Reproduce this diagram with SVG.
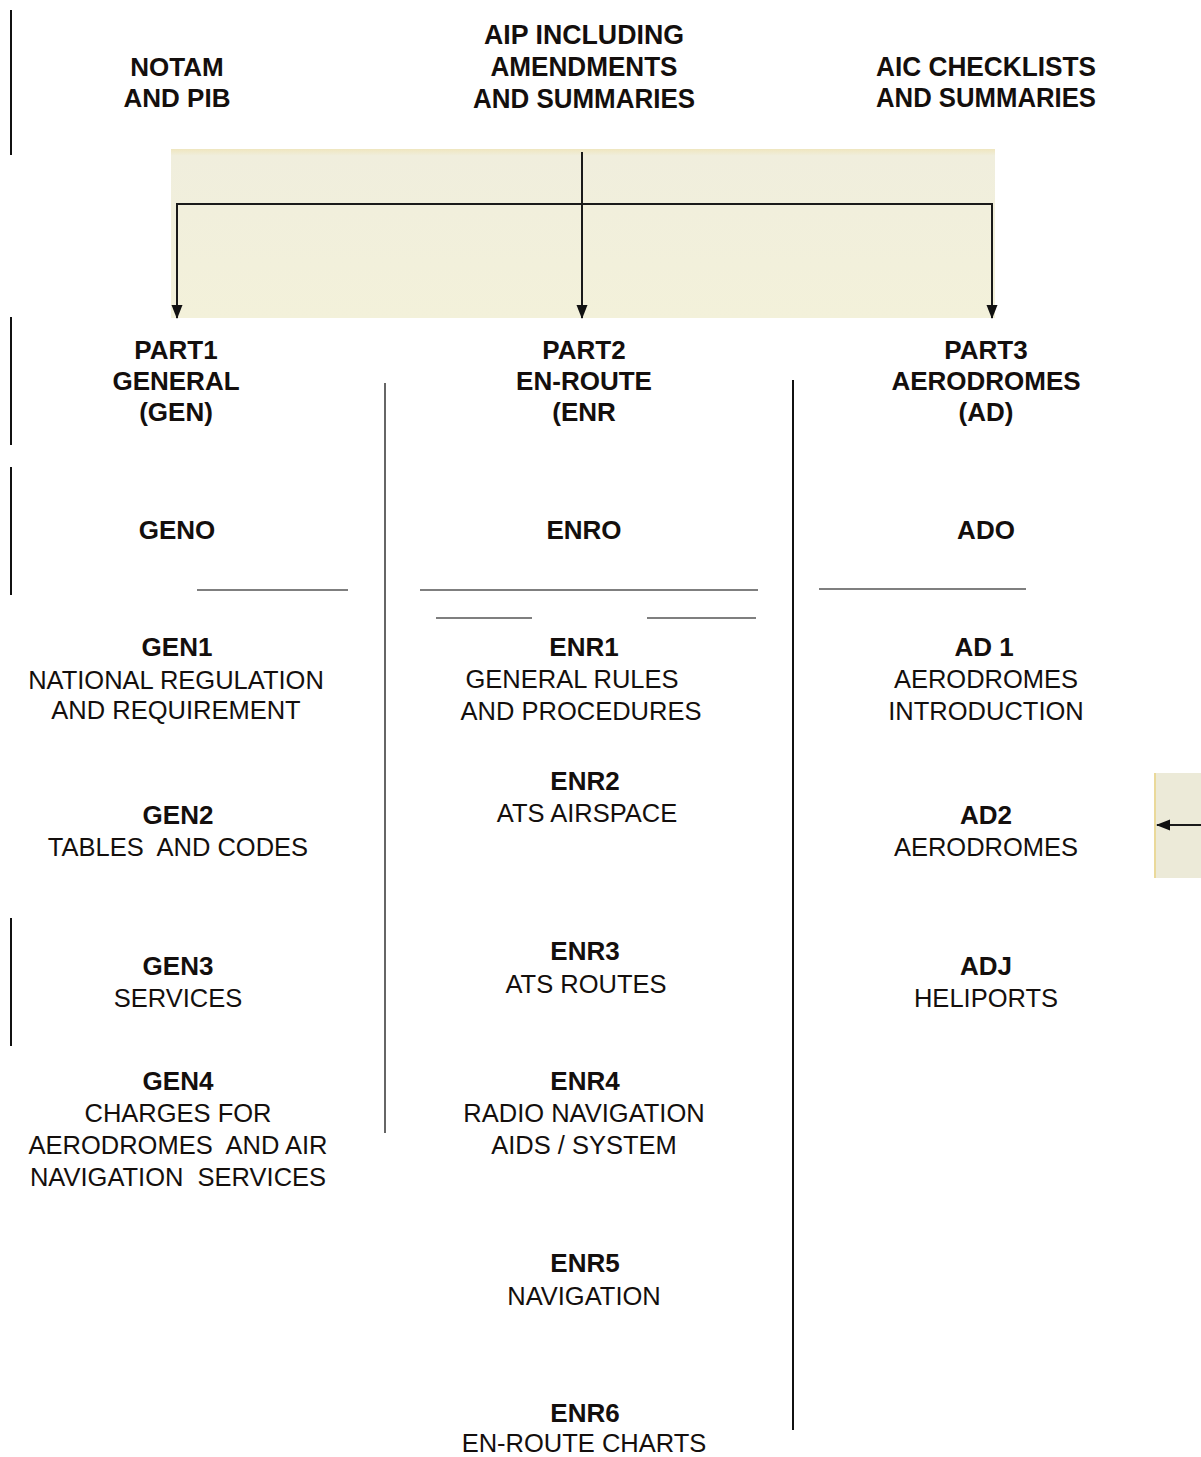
<svg xmlns="http://www.w3.org/2000/svg" width="1201" height="1457" viewBox="0 0 1201 1457">
<defs>
<marker id="ah" markerWidth="14" markerHeight="12" refX="13" refY="5.5" orient="auto" markerUnits="userSpaceOnUse">
<path d="M0,0 L14,5.5 L0,11 Z" fill="#111"/>
</marker>
<linearGradient id="bg" x1="0" y1="0" x2="0" y2="1">
<stop offset="0" stop-color="#efe6bf"/>
<stop offset="0.04" stop-color="#f0eedd"/>
<stop offset="1" stop-color="#f3f1da"/>
</linearGradient>
</defs>
<style>
text{font-family:"Liberation Sans",Arial,sans-serif;fill:#140f0d;text-anchor:middle}
.b{font-weight:bold;font-size:26px}
.r{font-size:25.5px}
.t{font-weight:bold;font-size:27px}
.sep{stroke:#111;stroke-width:2}
.hr{stroke:#555;stroke-width:1.5}
.con{stroke:#1a1a1a;stroke-width:2;fill:none}
</style>
<rect x="0" y="0" width="1201" height="1457" fill="#fff"/>
<g id="panel">
<rect x="171" y="149" width="824" height="169" fill="url(#bg)"/>
<rect x="1154" y="773" width="47" height="105" fill="#ecead8"/>
<line x1="1155" y1="773" x2="1155" y2="878" stroke="#ead99a" stroke-width="2"/>
</g>
<g id="separators">
<line class="sep" x1="11" y1="10" x2="11" y2="155"/>
<line class="sep" x1="11" y1="317" x2="11" y2="445"/>
<line class="sep" x1="11" y1="467" x2="11" y2="595"/>
<line class="sep" x1="11" y1="918" x2="11" y2="1046"/>
<line x1="385" y1="383" x2="385" y2="1133" stroke="#333" stroke-width="1.5"/>
<line class="sep" x1="793" y1="380" x2="793" y2="1430"/>
<line class="hr" x1="197" y1="590" x2="348" y2="590"/>
<line class="hr" x1="420" y1="590" x2="758" y2="590"/>
<line class="hr" x1="436" y1="618" x2="532" y2="618"/>
<line class="hr" x1="647" y1="618" x2="756" y2="618"/>
<line class="hr" x1="819" y1="589" x2="1026" y2="589"/>
</g>
<g id="connectors">
<line class="con" x1="582" y1="152" x2="582" y2="318" marker-end="url(#ah)"/>
<line class="con" x1="176" y1="204" x2="993" y2="204" stroke="#444"/>
<line class="con" x1="177" y1="204" x2="177" y2="318" marker-end="url(#ah)"/>
<line class="con" x1="992" y1="204" x2="992" y2="318" marker-end="url(#ah)"/>
<line class="con" x1="1201" y1="825" x2="1157" y2="825" marker-end="url(#ah)"/>
</g>
<g id="notam"><text class="b" x="177" y="76">NOTAM</text><text class="b" x="177" y="107">AND PIB</text></g>
<g id="aip"><text class="t" x="584" y="44" textLength="200" lengthAdjust="spacingAndGlyphs">AIP INCLUDING</text><text class="t" x="584" y="76" textLength="187" lengthAdjust="spacingAndGlyphs">AMENDMENTS</text><text class="t" x="584" y="108" textLength="222" lengthAdjust="spacingAndGlyphs">AND SUMMARIES</text></g>
<g id="aic"><text class="t" x="986" y="76" textLength="220" lengthAdjust="spacingAndGlyphs">AIC CHECKLISTS</text><text class="t" x="986" y="107" textLength="220" lengthAdjust="spacingAndGlyphs">AND SUMMARIES</text></g>
<g id="part1"><text class="b" x="176" y="359">PART1</text><text class="b" x="176" y="390">GENERAL</text><text class="b" x="176" y="421">(GEN)</text></g>
<g id="part2"><text class="b" x="584" y="359">PART2</text><text class="b" x="584" y="390">EN-ROUTE</text><text class="b" x="584" y="421">(ENR</text></g>
<g id="part3"><text class="b" x="986" y="359">PART3</text><text class="b" x="986" y="390">AERODROMES</text><text class="b" x="986" y="421">(AD)</text></g>
<g id="gen0"><text class="b" x="177" y="539">GENO</text></g>
<g id="enr0"><text class="b" x="584" y="539">ENRO</text></g>
<g id="ad0"><text class="b" x="986" y="539">ADO</text></g>
<g id="gen1"><text class="b" x="177" y="656">GEN1</text><text class="r" x="176" y="689">NATIONAL REGULATION</text><text class="r" x="176" y="719">AND REQUIREMENT</text></g>
<g id="enr1"><text class="b" x="584" y="656">ENR1</text><text class="r" x="572" y="688">GENERAL RULES</text><text class="r" x="581" y="720">AND PROCEDURES</text></g>
<g id="ad1"><text class="b" x="984" y="656">AD 1</text><text class="r" x="986" y="688">AERODROMES</text><text class="r" x="986" y="720">INTRODUCTION</text></g>
<g id="enr2"><text class="b" x="585" y="790">ENR2</text><text class="r" x="587" y="822">ATS AIRSPACE</text></g>
<g id="gen2"><text class="b" x="178" y="824">GEN2</text><text class="r" x="178" y="856" xml:space="preserve">TABLES  AND CODES</text></g>
<g id="ad2"><text class="b" x="986" y="824">AD2</text><text class="r" x="986" y="856">AERODROMES</text></g>
<g id="enr3"><text class="b" x="585" y="960">ENR3</text><text class="r" x="586" y="993">ATS ROUTES</text></g>
<g id="gen3"><text class="b" x="178" y="975">GEN3</text><text class="r" x="178" y="1007">SERVICES</text></g>
<g id="adj"><text class="b" x="986" y="975">ADJ</text><text class="r" x="986" y="1007">HELIPORTS</text></g>
<g id="gen4"><text class="b" x="178" y="1090">GEN4</text><text class="r" x="178" y="1122">CHARGES FOR</text><text class="r" x="178" y="1154" xml:space="preserve">AERODROMES  AND AIR</text><text class="r" x="178" y="1186" xml:space="preserve">NAVIGATION  SERVICES</text></g>
<g id="enr4"><text class="b" x="585" y="1090">ENR4</text><text class="r" x="584" y="1122">RADIO NAVIGATION</text><text class="r" x="584" y="1154">AIDS / SYSTEM</text></g>
<g id="enr5"><text class="b" x="585" y="1272">ENR5</text><text class="r" x="584" y="1305">NAVIGATION</text></g>
<g id="enr6"><text class="b" x="585" y="1422">ENR6</text><text class="r" x="584" y="1452">EN-ROUTE CHARTS</text></g>
</svg>
